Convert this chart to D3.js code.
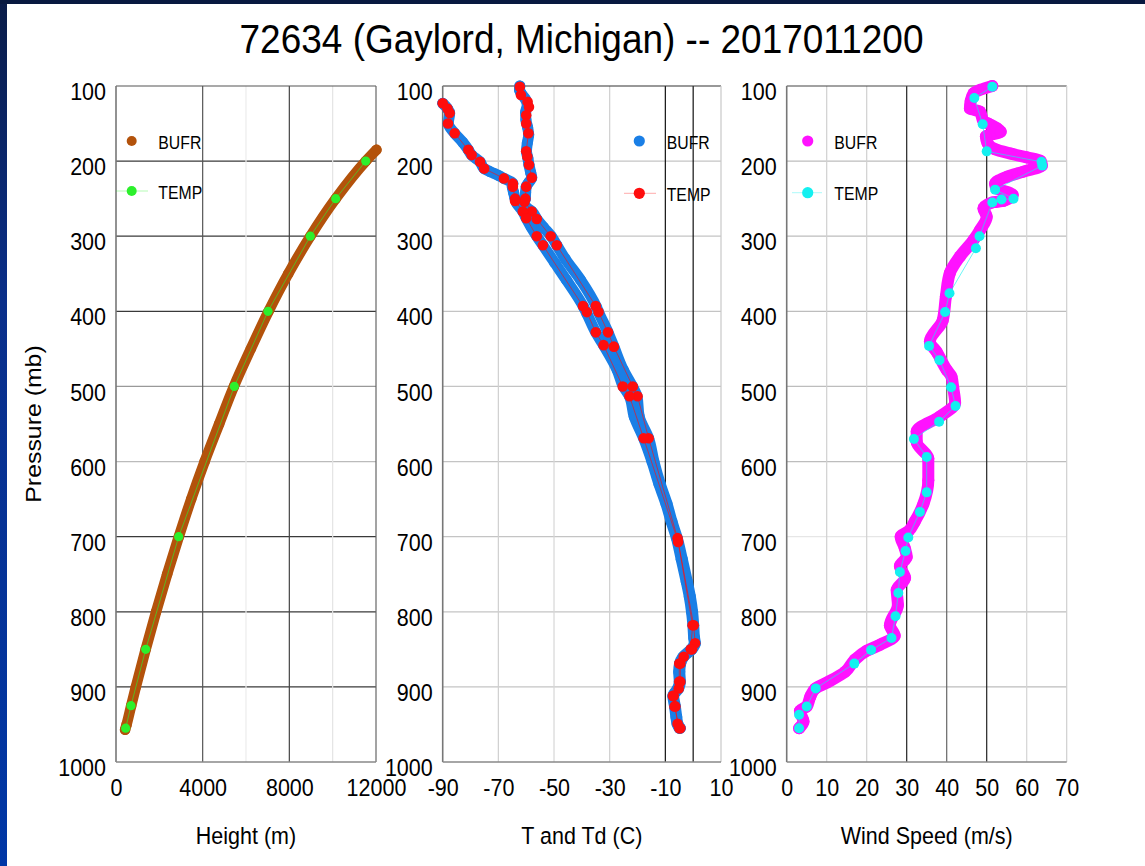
<!DOCTYPE html>
<html lang="en">
<head>
<meta charset="UTF-8">
<title>72634 (Gaylord, Michigan) -- 2017011200</title>
<script src="https://d3js.org/d3.v7.min.js"></script>
<style>
  body { margin: 0; background: #fff; overflow: hidden; }
  svg { display: block; }
  text { font-family: "Liberation Sans", Arial, Helvetica, sans-serif; fill: #000; }
</style>
</head>
<body>
<script>
const titleText = "72634 (Gaylord, Michigan) -- 2017011200";
const pressureTicks = [100, 200, 300, 400, 500, 600, 700, 800, 900, 1000];
const heightTicks = [0, 4000, 8000, 12000];
const tempTicks = [-90, -70, -50, -30, -10, 10];
const windTicks = [0, 10, 20, 30, 40, 50, 60, 70];
const seriesNames = ["BUFR", "TEMP"];

// height panel
const bufrHgtP = [957, 950, 925, 900, 850, 800, 750, 700, 650, 600, 550, 500, 450, 400, 350, 300, 250, 200, 185];
const bufrHgtM = [420, 490, 700, 915, 1370, 1850, 2360, 2900, 3470, 4090, 4760, 5440, 6220, 7040, 7950, 8970, 10140, 11530, 12020];
const tempHgtP = [955, 925, 850, 700, 500, 400, 300, 250, 200];
const tempHgtM = [446, 692, 1371, 2894, 5460, 7015, 8968, 10140, 11525];

// temperature / dewpoint panel
const bufrTP = [100,105,110,118,125,135,145,155,165,176,187,196,205,215,222,228,234,242,250,256,262,267,277,288,300,312,330,358,394,401,428,447,478,500,513,540,569,600,630,656,680,702,730,760,780,800,818,835,842,850,860,869,880,893,902,912,926,940,949,955];
const bufrT = [-62.3,-62.4,-61.8,-60.2,-59.6,-60.2,-60.1,-59.5,-59.1,-59.6,-59.9,-59.4,-59.0,-58.4,-58.0,-59.0,-60.0,-60.2,-60.3,-60.9,-59.8,-58.0,-56.2,-53.8,-51.0,-49.0,-46.0,-40.5,-34.8,-34.0,-30.6,-28.5,-25.1,-21.8,-20.2,-19.4,-16.0,-14.1,-11.8,-9.4,-7.6,-5.7,-3.9,-2.1,-1.0,-0.2,0.2,0.5,0.8,-0.4,-3.4,-4.5,-4.8,-4.6,-5.2,-7.0,-6.4,-5.9,-5.5,-4.6];
const bufrTdP = [123,130,136,150,163,175,185,192,201,210,214,219,223,230,234,242,250,256,267,276,288,300,312,335,358,394,403,428,445,478,500,513,540,569,600,630,656,680,702,730,760,780,800,818,835,842,850,860,869,880,893,902,912,926,940,949,955];
const bufrTd = [-90,-88.3,-87.5,-88,-85.7,-82.8,-80.8,-79.6,-76.6,-75.1,-73,-70,-68,-64.8,-65,-64.5,-64,-63.4,-61.2,-60,-58.2,-56.2,-54,-49.8,-45.6,-39.4,-38.2,-35,-32.2,-27.3,-25.1,-22.9,-21.2,-17.8,-14.8,-12.3,-9.8,-7.9,-6.0,-4.3,-2.5,-1.4,-0.6,-0.1,0.2,0.4,-0.8,-3.7,-4.9,-5.2,-5.0,-5.6,-7.3,-6.7,-6.2,-5.8,-5.0];
const tempTP = [101,112,121,128,139,150,163,187,194,205,222,234,250,254,267,277,300,312,393,401,428,447,500,513,569,702,818,842,850,860,869,893,902,912,926,949,955];
const tempT = [-62.3,-61.9,-59.5,-59.0,-60.0,-60.0,-59.2,-60.0,-59.6,-59.0,-58.0,-60.0,-60.3,-60.6,-58.0,-56.2,-51.2,-49.0,-35.0,-34.0,-30.6,-28.5,-21.7,-20.0,-16.0,-5.6,0.2,0.7,-0.4,-3.4,-4.6,-4.6,-5.2,-7.0,-6.4,-5.6,-4.6];
const tempTdP = [123,130,136,150,163,185,192,201,210,223,230,234,250,253,267,276,300,312,393,401,428,445,500,513,569,707,818,850,869,893,912,926,955];
const tempTd = [-90,-88.3,-87.5,-88.1,-85.7,-80.8,-79.6,-76.6,-75.1,-68.0,-64.8,-64.8,-64.0,-64.0,-61.2,-60.0,-56.2,-54.0,-39.6,-38.2,-35.0,-32.2,-25.3,-22.9,-17.8,-5.4,-0.2,-0.9,-5.0,-5.0,-7.3,-6.7,-5.0];

// wind panel
const bufrWindP = [100,110,120,130,134,147,150,156,161,167,176,184,190,195,200,206,214,221,230,236,245,253,255,263,274,292,305,327,349,380,412,440,454,478,487,501,522,540,560,574,596,625,656,680,693,700,715,727,739,755,771,791,818,832,844,852,864,880,893,902,913,926,932,946,955];
const bufrWind = [51.4,46.7,46.0,45.8,48.3,49.2,50.4,52.5,53.5,49.8,50.2,52.0,56.0,60.0,63.5,63.8,59.2,55.0,52.1,52.5,56.5,54.2,51.4,49.2,50.0,48.3,46.7,43.3,40.8,39.8,39.0,35.8,37.5,40.0,41.2,41.6,42.1,38.3,32.5,32.5,35.4,35.4,34.2,32.0,30.4,28.5,29.5,30.0,28.3,29.6,27.5,27.8,25.8,27.0,23.3,20.0,17.0,14.6,10.5,7.2,5.9,5.0,3.3,4.2,3.1];
const tempWindP = [101,116,151,187,201,206,238,250,251,255,300,316,376,401,446,465,501,526,547,570,594,641,667,701,719,747,775,806,835,851,869,902,926,937,955];
const tempWind = [51.4,46.9,49.0,50.0,63.7,63.9,52.1,56.7,53.7,51.4,48.2,47.3,40.7,39.6,35.6,38.2,41.1,42.2,38.1,31.8,35.0,35.0,33.3,30.4,29.7,28.3,27.9,27.2,26.2,21.1,16.9,7.25,5.0,3.1,3.1];

const W = 1145, H = 866;
const stretch = 1.11;   // the original picture is a bit taller than wide

const svg = d3.select("body").append("svg")
  .attr("width", W)
  .attr("height", H);

// slide frame
const defs = svg.append("defs");
const grad = defs.append("linearGradient").attr("id", "edge")
  .attr("x1", 0).attr("y1", 0).attr("x2", 0).attr("y2", 1);
grad.append("stop").attr("offset", "0%").attr("stop-color", "#0a1c48");
grad.append("stop").attr("offset", "35%").attr("stop-color", "#0a2f8a");
grad.append("stop").attr("offset", "100%").attr("stop-color", "#0037a6");
svg.append("rect").attr("x", 0).attr("y", 0).attr("width", 7).attr("height", H).attr("fill", "url(#edge)");
svg.append("rect").attr("x", 0).attr("y", 0).attr("width", W).attr("height", 4).attr("fill", "#081940");

const y = d3.scaleLinear().domain([100, 1000]).range([86, 762]);
const plain = d => String(d);   // hyphen minus, no thousands comma

const panels = [
  {
    x: d3.scaleLinear().domain([0, 12000]).range([116, 376]),
    ticks: heightTicks, title: "Height (m)",
    hGrid: d => (d === 500 ? "#999" : d === 600 ? "#bbb" : "#3a3a3a"),
    vGrid: [[4000, "#555"], [8000, "#444"], [6000, "#ececec"], [10000, "#e4e4e4"]],
    topColor: "#555", rightColor: "#666"
  },
  {
    x: d3.scaleLinear().domain([-90, 10]).range([442.7, 721]),
    ticks: tempTicks, title: "T and Td (C)",
    hGrid: () => "#c4c4c4",
    vGrid: [[-70, "#cfcfcf"], [-50, "#d6d6d6"], [-30, "#cfcfcf"], [-10, "#111"], [0, "#111"]],
    topColor: "#333", rightColor: "#c8c8c8"
  },
  {
    x: d3.scaleLinear().domain([0, 70]).range([786.7, 1066.7]),
    ticks: windTicks, title: "Wind Speed (m/s)",
    hGrid: d => (d === 700 ? "#e6e6e6" : "#bdbdbd"),
    vGrid: [[10, "#d0d0d0"], [20, "#d0d0d0"], [30, "#222"], [40, "#666"], [50, "#222"], [60, "#d4d4d4"]],
    topColor: "#444", rightColor: "#cfcfcf"
  }
];

panels.forEach(pn => {
  const [x0, x1] = pn.x.range();
  const g = svg.append("g");

  g.selectAll(".hgrid")
    .data(pressureTicks.slice(1, -1))
    .join("line")
    .attr("x1", x0).attr("x2", x1)
    .attr("y1", d => y(d)).attr("y2", d => y(d))
    .attr("stroke", d => pn.hGrid(d))
    .attr("stroke-width", 1.2);

  g.selectAll(".vgrid")
    .data(pn.vGrid)
    .join("line")
    .attr("x1", d => pn.x(d[0])).attr("x2", d => pn.x(d[0]))
    .attr("y1", y(100)).attr("y2", y(1000))
    .attr("stroke", d => d[1])
    .attr("stroke-width", 1.2);

  // frame
  g.append("line").attr("x1", x0).attr("x2", x1).attr("y1", y(100)).attr("y2", y(100))
    .attr("stroke", pn.topColor).attr("stroke-width", 1.2);
  g.append("line").attr("x1", x1).attr("x2", x1).attr("y1", y(100)).attr("y2", y(1000))
    .attr("stroke", pn.rightColor).attr("stroke-width", 1.2);
  g.append("line").attr("x1", x0).attr("x2", x0).attr("y1", y(100)).attr("y2", y(1000))
    .attr("stroke", "#777").attr("stroke-width", 1.6);
  g.append("line").attr("x1", x0).attr("x2", x1).attr("y1", y(1000)).attr("y2", y(1000))
    .attr("stroke", "#888").attr("stroke-width", 1.6);

  // pressure labels
  const ya = svg.append("g")
    .attr("transform", `translate(${x0},0)`)
    .call(d3.axisLeft(y).tickValues(pressureTicks).tickSize(0).tickFormat(plain));
  ya.select(".domain").remove();
  ya.selectAll("text")
    .attr("x", null).attr("dy", null)
    .attr("transform", `translate(-10,13.6) scale(1,${stretch})`)
    .style("font-size", "21.5px");

  // bottom labels
  const xa = svg.append("g")
    .attr("transform", `translate(0,${y(1000)})`)
    .call(d3.axisBottom(pn.x).tickValues(pn.ticks).tickSize(0).tickFormat(plain));
  xa.select(".domain").remove();
  xa.selectAll("text")
    .attr("y", null).attr("dy", null)
    .attr("transform", `translate(0,33.5) scale(1,${stretch})`)
    .style("font-size", "21.5px");

  svg.append("text")
    .attr("transform", `translate(${(x0 + x1) / 2},844) scale(1,${stretch})`)
    .attr("text-anchor", "middle")
    .style("font-size", "21.5px")
    .text(pn.title);
});

function bufrSeries(xs, ps, vs, color, width) {
  const pts = ps.map((p, i) => [xs(vs[i]), y(p)]);
  svg.append("path")
    .attr("d", d3.line().curve(d3.curveMonotoneY)(pts))
    .attr("fill", "none")
    .attr("stroke", color)
    .attr("stroke-width", width)
    .attr("stroke-linejoin", "round")
    .attr("stroke-linecap", "round");
  svg.append("g").selectAll("circle")
    .data(pts)
    .join("circle")
    .attr("cx", d => d[0]).attr("cy", d => d[1])
    .attr("r", width / 2)
    .attr("fill", color);
}

function tempSeries(xs, ps, vs, color, r) {
  const pts = ps.map((p, i) => [xs(vs[i]), y(p)]);
  svg.append("path")
    .attr("d", d3.line()(pts))
    .attr("fill", "none")
    .attr("stroke", color)
    .attr("stroke-opacity", 0.7)
    .attr("stroke-width", 0.9);
  svg.append("g").selectAll("circle")
    .data(pts)
    .join("circle")
    .attr("cx", d => d[0]).attr("cy", d => d[1])
    .attr("r", r)
    .attr("fill", color);
}

const brown = "#b3520b", green = "#2cf02c";
const blue = "#1a7fe6", red = "#ff0d0d";
const magenta = "#ff12ff", cyan = "#14f0f0";

bufrSeries(panels[0].x, bufrHgtP, bufrHgtM, brown, 10.5);
tempSeries(panels[0].x, tempHgtP, tempHgtM, green, 4.6);

bufrSeries(panels[1].x, bufrTP, bufrT, blue, 11);
bufrSeries(panels[1].x, bufrTdP, bufrTd, blue, 11);
tempSeries(panels[1].x, tempTP, tempT, red, 5.3);
tempSeries(panels[1].x, tempTdP, tempTd, red, 5.3);

bufrSeries(panels[2].x, bufrWindP, bufrWind, magenta, 12);
tempSeries(panels[2].x, tempWindP, tempWind, cyan, 5);

// legends
const legends = [
  { mx: 131.7, tx: 158.3, y1: 141, y2: 191, lx: [116, 148], c: [brown, green], r: 5 },
  { mx: 639.3, tx: 666.7, y1: 141, y2: 193.3, lx: [624, 656], c: [blue, red], r: 5.6 },
  { mx: 807.7, tx: 834.3, y1: 141, y2: 192.7, lx: [792, 822], c: [magenta, cyan], r: 5.6 }
];
legends.forEach(lg => {
  svg.append("line")
    .attr("x1", lg.lx[0]).attr("x2", lg.lx[1])
    .attr("y1", lg.y2).attr("y2", lg.y2)
    .attr("stroke", lg.c[1]).attr("stroke-opacity", 0.35).attr("stroke-width", 1);
  [lg.y1, lg.y2].forEach((yy, i) => {
    svg.append("circle").attr("cx", lg.mx).attr("cy", yy).attr("r", lg.r).attr("fill", lg.c[i]);
    svg.append("text")
      .attr("transform", `translate(${lg.tx},${yy + 7.5}) scale(1,1.14)`)
      .style("font-size", "15.8px")
      .text(seriesNames[i]);
  });
});

// titles
svg.append("text")
  .attr("transform", `translate(581.5,52.7) scale(1,1.12)`)
  .attr("text-anchor", "middle")
  .style("font-size", "37px")
  .text(titleText);

svg.append("text")
  .attr("transform", `translate(41,424) rotate(-90) scale(${stretch + 0.02},1)`)
  .attr("text-anchor", "middle")
  .style("font-size", "22px")
  .text("Pressure (mb)");
</script>
</body>
</html>
